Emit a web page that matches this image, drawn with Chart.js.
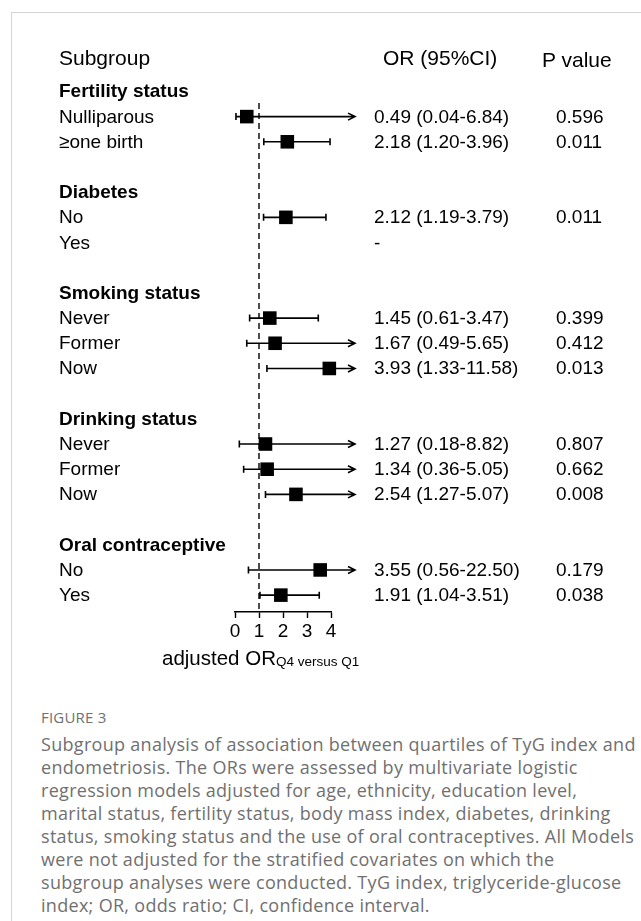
<!DOCTYPE html>
<html>
<head>
<meta charset="utf-8">
<script src="https://cdn.jsdelivr.net/npm/chart.js@4.4.0/dist/chart.umd.min.js"></script>
<style>
  html, body { margin: 0; padding: 0; background: #fff; }
  body { width: 641px; height: 921px; position: relative; overflow: hidden; font-family: "Liberation Sans", Arial, sans-serif; }
  .frame { position: absolute; left: 11px; top: 12px; width: 700px; height: 1000px; border-left: 1px solid #d4d4d4; border-top: 1px solid #d4d4d4; }
  #plotWrap { position: absolute; left: 0; top: 0; width: 641px; height: 700px; }
  .lbl { position: absolute; white-space: nowrap; color: #000; line-height: 24px; height: 24px; }
  .row { font-size: 19px; }
  .grp { font-size: 19px; font-weight: bold; }
  .hdr { font-size: 21px; }
  #axTitle { position: absolute; left: 162px; top: 646px; font-size: 20.5px; white-space: nowrap; }
  #axTitle sub { font-size: 13.5px; vertical-align: baseline; position: relative; top: 1px; }
  #caption { position: absolute; left: 41px; top: 705px; color: #707070; font-family: "Open Sans", sans-serif; white-space: nowrap; }
  #caption .fig { font-size: 15px; letter-spacing: 0.2px; line-height: 24px; }
  #caption .txt { font-size: 18px; letter-spacing: 0.3px; line-height: 23px; margin-top: 4px; }
</style>
</head>
<body>
<div class="frame"></div>
<div id="plotWrap"><canvas id="forest" width="641" height="700"></canvas></div>
<div id="labels"></div>
<div id="axTitle">adjusted OR<sub>Q4 versus Q1</sub></div>
<div id="caption">
  <div class="fig">FIGURE 3</div>
  <div class="txt">Subgroup analysis of association between quartiles of TyG index and<br>endometriosis. The ORs were assessed by multivariate logistic<br>regression models adjusted for age, ethnicity, education level,<br>marital status, fertility status, body mass index, diabetes, drinking<br>status, smoking status and the use of oral contraceptives. All Models<br>were not adjusted for the stratified covariates on which the<br>subgroup analyses were conducted. TyG index, triglyceride-glucose<br>index; OR, odds ratio; CI, confidence interval.</div>
</div>
<script>
// строки таблицы (пустая строка = разделитель)
const rowLabels = ["Fertility status", "Nulliparous", "\u2265one birth", "",
  "Diabetes", "No", "Yes", "",
  "Smoking status", "Never", "Former", "Now", "",
  "Drinking status", "Never", "Former", "Now", "",
  "Oral contraceptive", "No", "Yes"];
const groupRows = [0, 4, 8, 13, 18];
const orValues =  [null, 0.49, 2.18, null, null, 2.12, null, null, null, 1.45, 1.67, 3.93, null, null, 1.27, 1.34, 2.54, null, null, 3.55, 1.91];
const ciLow =     [null, 0.04, 1.20, null, null, 1.19, null, null, null, 0.61, 0.49, 1.33, null, null, 0.18, 0.36, 1.27, null, null, 0.56, 1.04];
const ciHigh =    [null, 6.84, 3.96, null, null, 3.79, null, null, null, 3.47, 5.65, 11.58, null, null, 8.82, 5.05, 5.07, null, null, 22.50, 3.51];
const orText =    ["", "0.49 (0.04-6.84)", "2.18 (1.20-3.96)", "", "", "2.12 (1.19-3.79)", "-", "", "",
  "1.45 (0.61-3.47)", "1.67 (0.49-5.65)", "3.93 (1.33-11.58)", "", "",
  "1.27 (0.18-8.82)", "1.34 (0.36-5.05)", "2.54 (1.27-5.07)", "", "",
  "3.55 (0.56-22.50)", "1.91 (1.04-3.51)"];
const pText =     ["", "0.596", "0.011", "", "", "0.011", "", "", "",
  "0.399", "0.412", "0.013", "", "",
  "0.807", "0.662", "0.008", "", "",
  "0.179", "0.038"];
const xTicks = [0, 1, 2, 3, 4];
const refLine = 1;       // линия OR = 1
const arrowLimit = 5;    // дальше рисуем стрелку

const points = [];
orValues.forEach((v, i) => { if (v !== null) points.push({ x: v, y: i }); });

const forestPlugin = {
  id: 'forest',
  beforeDatasetsDraw(chart) {
    const ctx = chart.ctx, xs = chart.scales.x, ys = chart.scales.y, area = chart.chartArea;
    ctx.save();
    // пунктир OR = 1
    ctx.strokeStyle = '#000';
    ctx.lineWidth = 1.4;
    ctx.setLineDash([6, 4]);
    ctx.beginPath();
    ctx.moveTo(xs.getPixelForValue(refLine), area.top);
    ctx.lineTo(xs.getPixelForValue(refLine), area.bottom);
    ctx.stroke();
    ctx.setLineDash([]);
    // доверительные интервалы
    ctx.lineWidth = 1.6;
    for (let i = 0; i < orValues.length; i++) {
      if (orValues[i] === null) continue;
      const y = ys.getPixelForValue(i);
      const x1 = xs.getPixelForValue(ciLow[i]);
      const arrow = ciHigh[i] > arrowLimit;
      const x2 = xs.getPixelForValue(arrow ? arrowLimit : ciHigh[i]);
      ctx.beginPath();
      ctx.moveTo(x1, y); ctx.lineTo(x2, y);
      ctx.moveTo(x1, y - 3.5); ctx.lineTo(x1, y + 3.5);
      if (arrow) {
        ctx.moveTo(x2 - 7, y - 3.5); ctx.lineTo(x2, y); ctx.lineTo(x2 - 7, y + 3.5);
      } else {
        ctx.moveTo(x2, y - 3.5); ctx.lineTo(x2, y + 3.5);
      }
      ctx.stroke();
    }
    ctx.restore();
  },
  afterRender(chart) {
    if (chart._labelsDone) return;
    chart._labelsDone = true;
    const ys = chart.scales.y;
    const box = document.getElementById('labels');
    const add = (txt, cls, x, y) => {
      const d = document.createElement('div');
      d.className = 'lbl ' + cls;
      d.textContent = txt;
      d.style.left = x + 'px';
      d.style.top = (y - 12) + 'px';
      box.appendChild(d);
    };
    add('Subgroup', 'hdr', 59, ys.getPixelForValue(-1.33));
    add('OR (95%CI)', 'hdr', 383, ys.getPixelForValue(-1.33));
    add('P value', 'hdr', 542, ys.getPixelForValue(-1.25));
    rowLabels.forEach((t, i) => {
      if (!t) return;
      const y = ys.getPixelForValue(i);
      add(t, groupRows.includes(i) ? 'grp' : 'row', 59, y);
      if (orText[i]) add(orText[i], 'row', 374, y);
      if (pText[i]) add(pText[i], 'row', 556, y);
    });
  }
};

new Chart(document.getElementById('forest'), {
  type: 'scatter',
  data: {
    datasets: [{
      data: points,
      clip: false,
      pointStyle: 'rect',
      pointRadius: 9.6,
      pointHoverRadius: 9.6,
      backgroundColor: '#000',
      borderColor: '#000',
      borderWidth: 0
    }]
  },
  options: {
    responsive: false,
    animation: false,
    events: [],
    layout: { padding: { left: 235, right: 310, top: 103, bottom: 58 } },
    plugins: { legend: { display: false }, tooltip: { enabled: false } },
    scales: {
      x: {
        type: 'linear', min: 0, max: 4,
        afterBuildTicks: (s) => { s.ticks = xTicks.map(v => ({ value: v })); },
        afterFit: (s) => { s.height = 30; },
        ticks: { color: '#000', padding: 2, font: { family: 'Liberation Sans', size: 19 } },
        grid: { drawOnChartArea: false, drawTicks: true, tickLength: 6, tickColor: '#000', tickWidth: 1.4 },
        border: { display: true, color: '#000', width: 1.4 }
      },
      y: {
        type: 'linear', reverse: true, min: 0.46, max: 20.67,
        display: false
      }
    }
  },
  plugins: [forestPlugin]
});
</script>
</body>
</html>
